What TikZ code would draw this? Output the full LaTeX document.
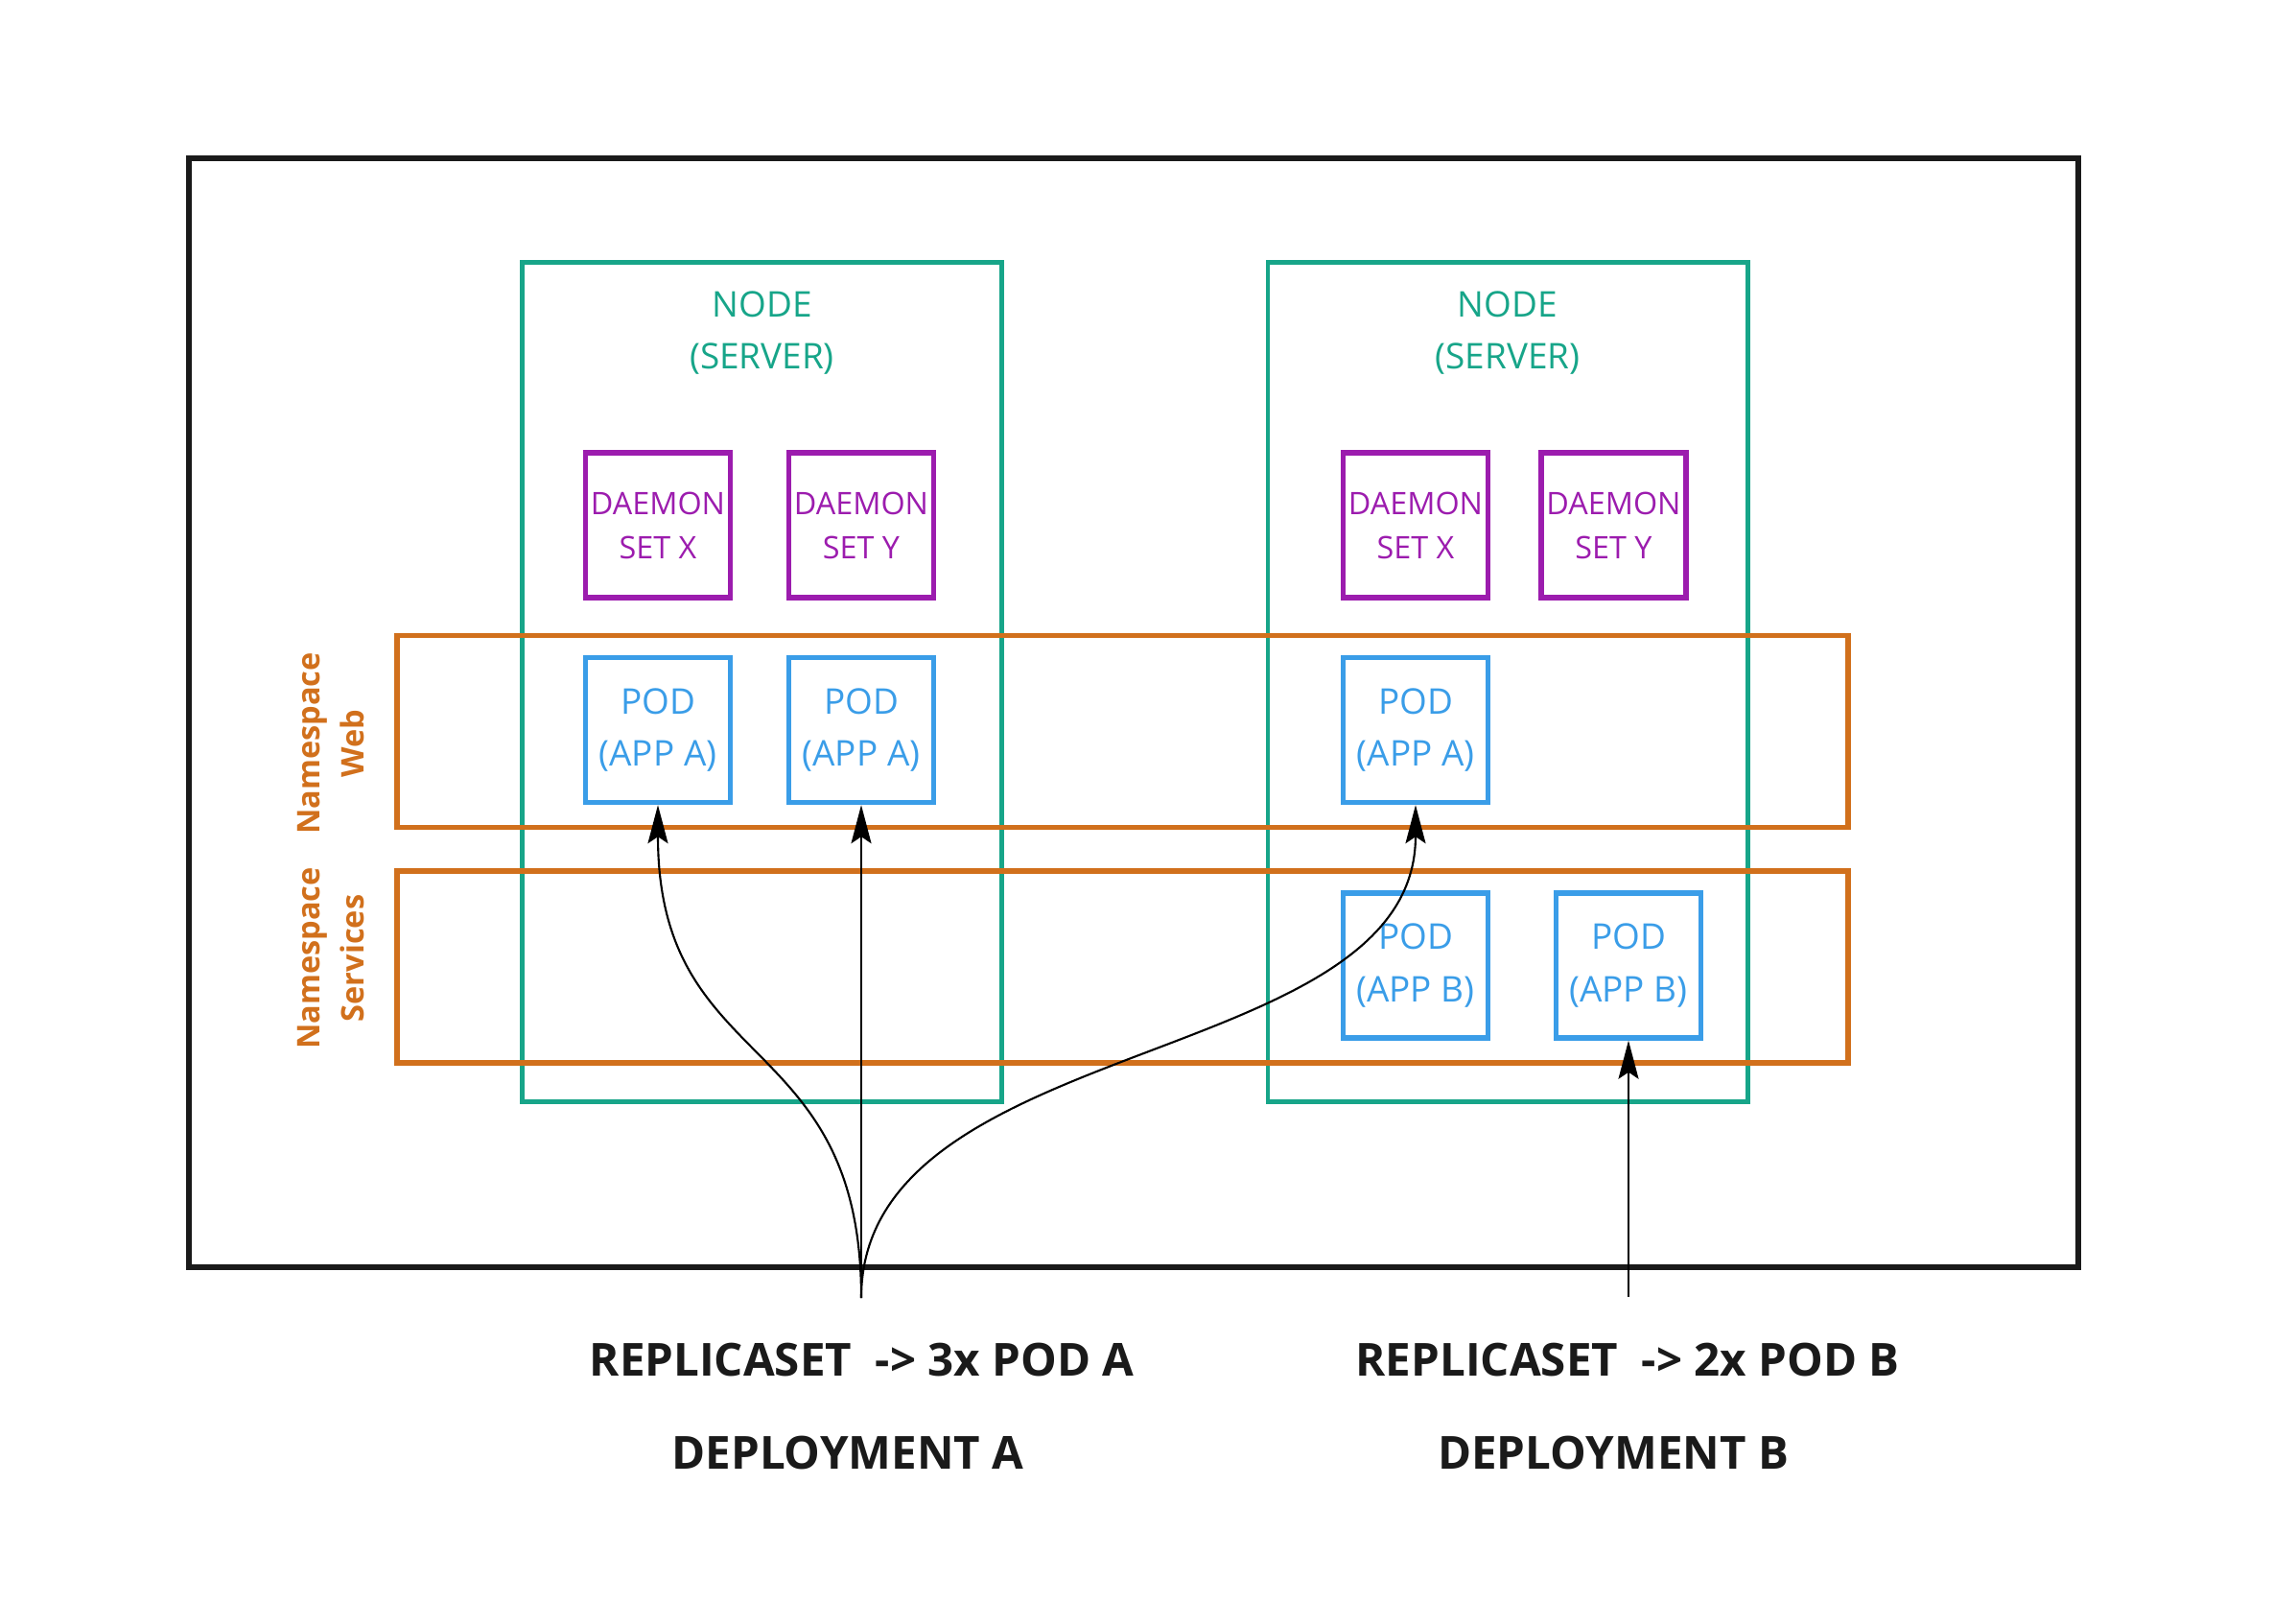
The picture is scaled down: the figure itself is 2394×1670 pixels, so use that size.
\documentclass[tikz,border=0pt]{standalone}
\usepackage{fontspec}
\setmainfont{Open Sans}
\usepackage{tikz}
\usepackage{xcolor}
\usetikzlibrary{positioning,arrows.meta}

\definecolor{srvgreen}{HTML}{17A589}
\definecolor{dsviolet}{HTML}{9C1CAE}
\definecolor{podblue}{HTML}{3A9DE8}
\definecolor{nsorange}{HTML}{D1701C}
\definecolor{framegray}{HTML}{1A1A1A}

\begin{document}
\begin{tikzpicture}[x=0.01cm, y=0.01cm,
  cluster/.style={draw=framegray, line width=1.7pt, minimum width=19.68cm, minimum height=11.55cm},
  server/.style={draw=srvgreen, line width=1.35pt, minimum width=5cm, minimum height=8.74cm},
  nsbox/.style={draw=nsorange, line width=1.5pt, minimum width=15.12cm, minimum height=2.0cm},
  daemon/.style={draw=dsviolet, text=dsviolet, line width=1.5pt, minimum size=1.51cm, align=center, font=\fontsize{9.2}{13.1}\selectfont},
  pod/.style={draw=podblue, text=podblue, line width=1.5pt, minimum size=1.51cm, align=center, font=\fontsize{10.5}{15.4}\selectfont},
  srvlabel/.style={text=srvgreen, align=center, font=\fontsize{10.5}{15.1}\selectfont},
  nslabel/.style={text=nsorange, rotate=90, align=center, font=\bfseries\fontsize{9.25}{13.2}\selectfont},
  caption/.style={text=framegray, font=\bfseries\fontsize{13.5}{16}\selectfont},
  feed/.style={-{Stealth[length=0.4cm, width=0.21cm, inset=0.07cm]}, line width=0.6pt, black}]
\tikzstyle{every node}+=[inner sep=0pt]
\useasboundingbox (0,0) rectangle (2394,-1670);

\node[cluster] (k8s) at (1182,-743) {};

\node[server] (srvA) at (794.5,-711) {};
\node[server] (srvB) at (1572,-711) {};
\node[srvlabel] (srvAlbl) at (794.5,-347) {NODE\\(SERVER)};
\node[srvlabel] (srvBlbl) at (1572,-347) {NODE\\(SERVER)};

\node[daemon] (dsAX) at (686,-547.5) {DAEMON\\SET X};
\node[daemon] (dsAY) at (898,-547.5) {DAEMON\\SET Y};
\node[daemon] (dsBX) at (1476,-547.5) {DAEMON\\SET X};
\node[daemon] (dsBY) at (1682.5,-547.5) {DAEMON\\SET Y};

\node[pod] (podA1) at (686,-761) {POD\\(APP A)};
\node[pod] (podA2) at (898,-761) {POD\\(APP A)};
\node[pod] (podA3) at (1476,-761) {POD\\(APP A)};
\node[pod] (podB1) at (1476,-1006.5) {POD\\(APP B)};
\node[pod] (podB2) at (1698,-1006.5) {POD\\(APP B)};

\node[nsbox] (nsWeb) at (1170.5,-762.5) {};
\node[nsbox] (nsSvc) at (1170.5,-1008) {};
\node[nslabel] (nsWeblbl) at (345,-775) {Namespace\\Web};
\node[nslabel] (nsSvclbl) at (345,-999) {Namespace\\Services};

\coordinate (srcA) at (898,-1353);
\coordinate (srcB) at (1698,-1352);
\draw[feed] (srcA) to[out=90, in=-90, looseness=1.3] (podA1.south);
\draw[feed] (srcA) -- (podA2.south);
\draw[feed] (srcA) to[out=90, in=-90, looseness=0.92] (podA3.south);
\draw[feed] (srcB) -- (podB2.south);

\node[caption] (rsA) at (898.5,-1418) {REPLICASET\ \ -> 3x POD A};
\node[caption] (depA) at (884,-1515) {DEPLOYMENT A};
\node[caption] (rsB) at (1697,-1418) {REPLICASET\ \ -> 2x POD B};
\node[caption] (depB) at (1682,-1515) {DEPLOYMENT B};
\end{tikzpicture}
\end{document}
